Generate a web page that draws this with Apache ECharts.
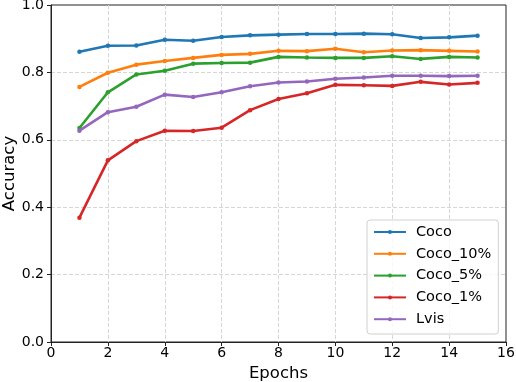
<!DOCTYPE html>
<html>
<head>
<meta charset="utf-8">
<script src="https://cdn.jsdelivr.net/npm/echarts@6/dist/echarts.min.js"></script>
<style>
html,body{margin:0;padding:0;background:#fff;}
#chart{width:516px;height:382px;}
</style>
</head>
<body>
<div id="chart"></div>
<script>
const epochs = [1,2,3,4,5,6,7,8,9,10,11,12,13,14,15];
const seriesNames = ['Coco','Coco_10%','Coco_5%','Coco_1%','Lvis'];
const coco    = [0.861,0.879,0.880,0.897,0.894,0.905,0.910,0.912,0.914,0.914,0.915,0.913,0.902,0.904,0.909];
const coco10  = [0.757,0.799,0.823,0.834,0.843,0.852,0.855,0.864,0.863,0.870,0.860,0.865,0.866,0.864,0.862];
const coco5   = [0.635,0.741,0.794,0.805,0.826,0.828,0.829,0.846,0.844,0.843,0.843,0.848,0.840,0.846,0.844];
const coco1   = [0.369,0.539,0.596,0.627,0.626,0.636,0.688,0.721,0.738,0.763,0.762,0.760,0.772,0.764,0.769];
const lvis    = [0.627,0.682,0.698,0.734,0.727,0.741,0.759,0.770,0.773,0.781,0.785,0.790,0.790,0.789,0.790];
const xTicks = [0,2,4,6,8,10,12,14,16];
const yTicks = [0.0,0.2,0.4,0.6,0.8,1.0];

const colors = ['#1f77b4','#ff7f0e','#2ca02c','#d62728','#9467bd'];
const allData = [coco, coco10, coco5, coco1, lvis];
const FONT = 'DejaVu Sans';

const chart = echarts.init(document.getElementById('chart'), null, {renderer:'canvas'});
chart.setOption({
  animation: false,
  backgroundColor: '#fff',
  textStyle: {fontFamily: FONT},
  grid: {left: 51, right: 10, top: 5, bottom: 40, containLabel: false, outerBoundsMode: 'none',
         show: true, borderColor: '#222', borderWidth: 1, backgroundColor: 'transparent'},
  xAxis: {
    type: 'value', min: xTicks[0], max: xTicks[xTicks.length-1], interval: 2,
    name: 'Epochs', nameLocation: 'middle', nameGap: 21,
    nameTextStyle: {fontSize: 16.5, color: '#000', fontFamily: FONT},
    axisLine: {show: true, onZero: false, lineStyle: {color: '#222', width: 1}},
    axisTick: {show: true, inside: false, length: 4, lineStyle: {color: '#222'}},
    axisLabel: {fontSize: 14, color: '#000', margin: 4, fontFamily: FONT},
    splitLine: {show: true, showMinLine: false, showMaxLine: false, lineStyle: {color: '#d6d6d6', type: [4, 2], width: 1}}
  },
  yAxis: {
    type: 'value', min: yTicks[0], max: yTicks[yTicks.length-1], interval: 0.2,
    name: 'Accuracy', nameLocation: 'middle', nameGap: 33, nameMoveOverlap: false,
    nameTextStyle: {fontSize: 16.5, color: '#000', fontFamily: FONT},
    axisLine: {show: true, onZero: false, lineStyle: {color: '#222', width: 1}},
    axisTick: {show: true, inside: false, length: 4, lineStyle: {color: '#222'}},
    axisLabel: {fontSize: 14, color: '#000', margin: 7, fontFamily: FONT, formatter: v => v.toFixed(1)},
    splitLine: {show: true, showMinLine: false, showMaxLine: false, lineStyle: {color: '#d6d6d6', type: [4, 2], width: 1}}
  },
  legend: {
    orient: 'vertical', left: 367, top: 220,
    padding: [3.5, 7, 6.3, 6],
    itemWidth: 32, itemHeight: 5, itemGap: 4.8,
    backgroundColor: 'rgba(255,255,255,0.8)', borderColor: '#d0d0d0', borderWidth: 1, borderRadius: 3,
    textStyle: {fontSize: 14.5, lineHeight: 17, color: '#000', fontFamily: FONT, padding: [0,0,0,5]},
    data: seriesNames
  },
  series: seriesNames.map((n, i) => ({
    name: n, type: 'line',
    data: epochs.map((e, j) => [e, allData[i][j]]),
    color: colors[i],
    symbol: 'circle', symbolSize: 4.5,
    lineStyle: {width: 2.6, color: colors[i]},
    itemStyle: {color: colors[i]},
    z: 2 + i
  }))
});
</script>
</body>
</html>
